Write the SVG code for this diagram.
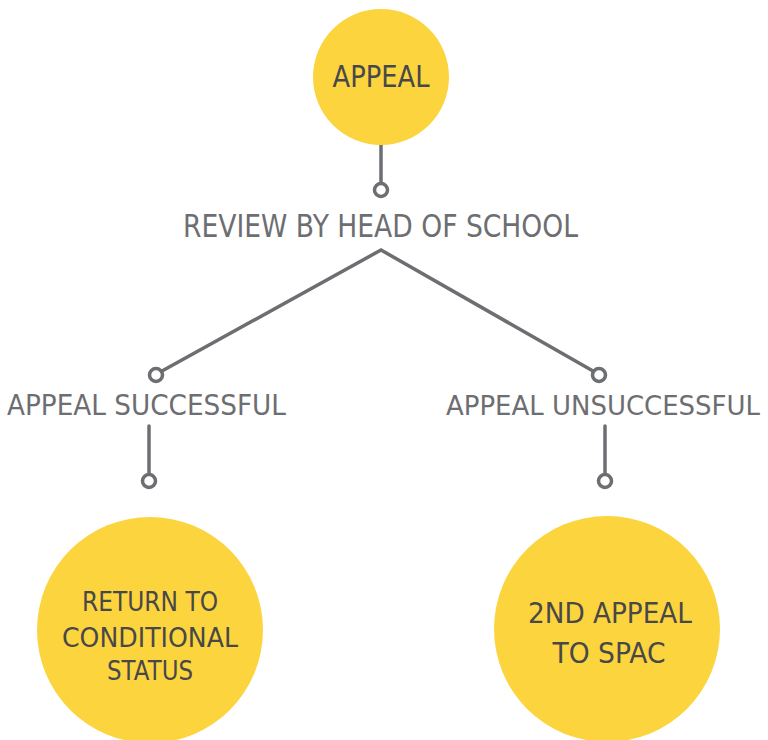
<svg xmlns="http://www.w3.org/2000/svg" width="768" height="740" viewBox="0 0 768 740">
<style>
.node{fill:#fcd43d}
.ntext{fill:#48484a;font-family:"DejaVu Sans","Liberation Sans",sans-serif;text-anchor:middle}
.label{fill:#6d6e71;font-family:"DejaVu Sans","Liberation Sans",sans-serif}
.conn{stroke:#6d6e71;stroke-width:3.5;fill:none;stroke-linecap:round}
.dot{stroke:#6d6e71;stroke-width:3.5;fill:#fff}
</style>
<rect width="768" height="740" fill="#fff"/>
<g id="connectors">
<line class="conn" x1="381" y1="144" x2="381" y2="183"/>
<circle class="dot" cx="381" cy="190" r="6.5"/>
<polyline class="conn" points="162,371 381,250 593,371"/>
<circle class="dot" cx="156" cy="375" r="6.5"/>
<circle class="dot" cx="599" cy="375" r="6.5"/>
<line class="conn" x1="149" y1="426" x2="149" y2="474"/>
<circle class="dot" cx="149" cy="481" r="6.5"/>
<line class="conn" x1="605" y1="426" x2="605" y2="474"/>
<circle class="dot" cx="605" cy="481" r="6.5"/>
</g>
<g id="appeal">
<circle class="node" cx="381" cy="77" r="68"/>
<text class="ntext" x="381" y="87" font-size="30" textLength="97" lengthAdjust="spacingAndGlyphs">APPEAL</text>
</g>
<g id="review">
<text class="label" x="183" y="237" font-size="32" textLength="395" lengthAdjust="spacingAndGlyphs">REVIEW BY HEAD OF SCHOOL</text>
</g>
<g id="successful">
<text class="label" x="7" y="415" font-size="29" textLength="279" lengthAdjust="spacingAndGlyphs">APPEAL SUCCESSFUL</text>
</g>
<g id="unsuccessful">
<text class="label" x="446" y="415" font-size="26" textLength="314" lengthAdjust="spacingAndGlyphs">APPEAL UNSUCCESSFUL</text>
</g>
<g id="return">
<circle class="node" cx="150" cy="630" r="113"/>
<text class="ntext" font-size="26" x="150" y="611" textLength="136" lengthAdjust="spacingAndGlyphs">RETURN TO</text>
<text class="ntext" font-size="26" x="150" y="647" textLength="176" lengthAdjust="spacingAndGlyphs">CONDITIONAL</text>
<text class="ntext" font-size="26" x="150" y="680" textLength="86" lengthAdjust="spacingAndGlyphs">STATUS</text>
</g>
<g id="second">
<circle class="node" cx="607" cy="629" r="113"/>
<text class="ntext" font-size="29" x="610" y="623" textLength="164" lengthAdjust="spacingAndGlyphs">2ND APPEAL</text>
<text class="ntext" font-size="29" x="609" y="663" textLength="113" lengthAdjust="spacingAndGlyphs">TO SPAC</text>
</g>
</svg>
